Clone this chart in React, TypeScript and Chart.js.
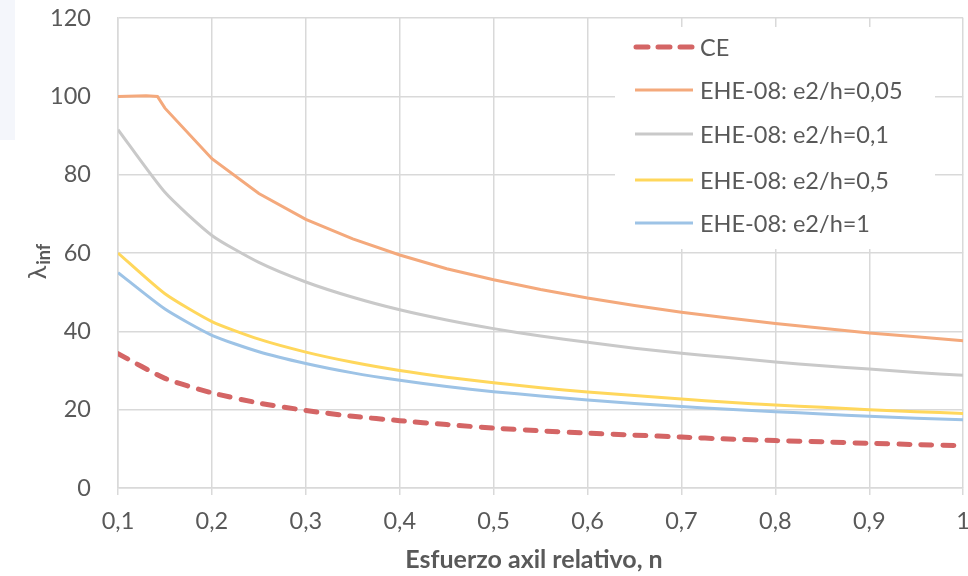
import React, { useEffect, useRef } from "react";
import { Chart, registerables } from "chart.js";

Chart.register(...registerables);

const nValues = [0.1, 0.15, 0.2, 0.25, 0.3, 0.35, 0.4, 0.45, 0.5, 0.55, 0.6, 0.65, 0.7, 0.75, 0.8, 0.85, 0.9, 0.95, 1.0];
const ceValues = [34.3, 28, 24.3, 21.7, 19.8, 18.3, 17.2, 16.2, 15.3, 14.6, 14, 13.5, 13, 12.5, 12.1, 11.8, 11.4, 11.1, 10.8];
const ehe005N = [0.1, 0.13, 0.142, 0.15, 0.2, 0.25, 0.3, 0.35, 0.4, 0.45, 0.5, 0.55, 0.6, 0.65, 0.7, 0.75, 0.8, 0.85, 0.9, 0.95, 1.0];
const ehe005Values = [100, 100.2, 100, 97, 84.1, 75.2, 68.6, 63.6, 59.5, 56, 53.2, 50.7, 48.5, 46.6, 44.9, 43.4, 42, 40.8, 39.6, 38.6, 37.6];
const ehe01Values = [91.5, 75.5, 64.5, 57.6, 52.6, 48.7, 45.5, 42.9, 40.7, 38.8, 37.2, 35.7, 34.4, 33.3, 32.2, 31.2, 30.4, 29.5, 28.8];
const ehe05Values = [60, 49.6, 42.5, 38, 34.7, 32.1, 30, 28.3, 26.9, 25.6, 24.5, 23.6, 22.7, 21.9, 21.2, 20.6, 20, 19.5, 19];
const ehe1Values = [55, 45.7, 39, 34.8, 31.8, 29.4, 27.5, 25.9, 24.6, 23.5, 22.5, 21.6, 20.8, 20.1, 19.5, 18.9, 18.3, 17.8, 17.4];

const seriesLabels = ["CE", "EHE-08: e2/h=0,05", "EHE-08: e2/h=0,1", "EHE-08: e2/h=0,5", "EHE-08: e2/h=1"];
const seriesColors = ["#D46565", "#F4A97C", "#C9C9C9", "#FFD75C", "#9DC3E6"];
const xTitle = "Esfuerzo axil relativo, n";
const yTitleMain = "λ";
const yTitleSub = "inf";

const FONT = "Lato, 'Open Sans', sans-serif";
const TEXT_COLOR = "#595959";
const SHIFT_Y = 23;
const EXTRA_W = 14;

const pts = (xs: number[], ys: number[]) => xs.map((x, i) => ({ x, y: ys[i] }));

const customPlugin = {
  id: "custom",
  afterDatasetsDraw(chart: any) {
    const ctx = chart.ctx as CanvasRenderingContext2D;
    ctx.save();
    ctx.translate(0, SHIFT_Y);
    // legend box
    const lx = 615, ly = 27, lw = 320, lh = 222;
    ctx.fillStyle = "#ffffff";
    ctx.fillRect(lx, ly, lw, lh);
    const rowY = [47, 90, 134, 180, 223];
    ctx.font = `23.5px ${FONT}`;
    ctx.textBaseline = "middle";
    ctx.textAlign = "left";
    seriesLabels.forEach((lab, i) => {
      const y = rowY[i];
      ctx.beginPath();
      ctx.strokeStyle = seriesColors[i];
      if (i === 0) {
        ctx.lineWidth = 5;
        ctx.lineCap = "round";
        ctx.setLineDash([12, 10]);
        ctx.moveTo(636, y);
        ctx.lineTo(692, y);
      } else {
        ctx.lineWidth = 3;
        ctx.lineCap = "butt";
        ctx.setLineDash([]);
        ctx.moveTo(635, y);
        ctx.lineTo(693, y);
      }
      ctx.stroke();
      ctx.setLineDash([]);
      ctx.fillStyle = TEXT_COLOR;
      ctx.fillText(lab, 700, y + 1);
    });
    // x title
    ctx.font = `bold 25px ${FONT}`;
    ctx.textAlign = "center";
    ctx.fillStyle = TEXT_COLOR;
    ctx.fillText(xTitle, 534, 560);
    // y title rotated
    ctx.translate(38, 262);
    ctx.rotate(-Math.PI / 2);
    ctx.textAlign = "left";
    ctx.font = `25px ${FONT}`;
    const w = ctx.measureText(yTitleMain).width;
    ctx.font = `bold 18px ${FONT}`;
    const ws = ctx.measureText(yTitleSub).width;
    const start = -(w + ws) / 2;
    ctx.font = `25px ${FONT}`;
    ctx.fillText(yTitleMain, start, 0);
    ctx.font = `bold 18px ${FONT}`;
    ctx.fillText(yTitleSub, start + w + 1, 6);
    ctx.restore();
  },
};

export default function App() {
  const ref = useRef<HTMLCanvasElement | null>(null);
  useEffect(() => {
    if (!ref.current) return;
    const common = { pointRadius: 0, pointHoverRadius: 0, fill: false, tension: 0.2 };
    const chart = new Chart(ref.current, {
      type: "line",
      data: {
        datasets: [
          { label: seriesLabels[0], data: pts(nValues, ceValues), borderColor: seriesColors[0], borderWidth: 5, borderDash: [11, 11], borderCapStyle: "round", ...common },
          { label: seriesLabels[1], data: pts(ehe005N, ehe005Values), borderColor: seriesColors[1], borderWidth: 3, ...common, tension: 0 },
          { label: seriesLabels[2], data: pts(nValues, ehe01Values), borderColor: seriesColors[2], borderWidth: 3, ...common },
          { label: seriesLabels[3], data: pts(nValues, ehe05Values), borderColor: seriesColors[3], borderWidth: 3, ...common },
          { label: seriesLabels[4], data: pts(nValues, ehe1Values), borderColor: seriesColors[4], borderWidth: 3, ...common },
        ],
      },
      options: {
        animation: false,
        responsive: false,
        maintainAspectRatio: false,
        layout: { padding: 0 },
        plugins: { legend: { display: false }, tooltip: { enabled: false } },
        scales: {
          x: {
            type: "linear",
            min: 0.1,
            max: 1,
            ticks: {
              stepSize: 0.1,
              color: TEXT_COLOR,
              font: { family: FONT, size: 23.5 },
              padding: 12,
              maxRotation: 0,
              callback: (v: any) => {
                const r = Math.round(Number(v) * 10) / 10;
                return r === 1 ? "1" : r.toFixed(1).replace(".", ",");
              },
            },
            grid: { color: "#D9D9D9", lineWidth: 1.5, tickLength: 7, tickColor: "#D9D9D9" },
            border: { color: "#D9D9D9", width: 1.5 },
            afterFit: (s: any) => { s.height = 88; },
          },
          y: {
            min: 0,
            max: 120,
            ticks: { stepSize: 20, color: TEXT_COLOR, font: { family: FONT, size: 23.5 }, padding: 27 },
            grid: { color: "#D9D9D9", lineWidth: 1.5, drawTicks: false },
            border: { color: "#D9D9D9", width: 1.5 },
            afterFit: (s: any) => { s.width = 118; },
          },
        },
      },
      plugins: [customPlugin],
    } as any);
    return () => chart.destroy();
  }, []);
  return (
    <div style={{ position: "fixed", left: 0, top: 0, width: 968, height: 576, background: "#fff", overflow: "hidden" }}>
      <div style={{ position: "absolute", left: 0, top: 0, width: 15, height: 140, background: "#F4F6FB" }} />
      <canvas ref={ref} width={968 + EXTRA_W} height={576 + SHIFT_Y} style={{ position: "absolute", left: 0, top: -SHIFT_Y }} />
    </div>
  );
}
